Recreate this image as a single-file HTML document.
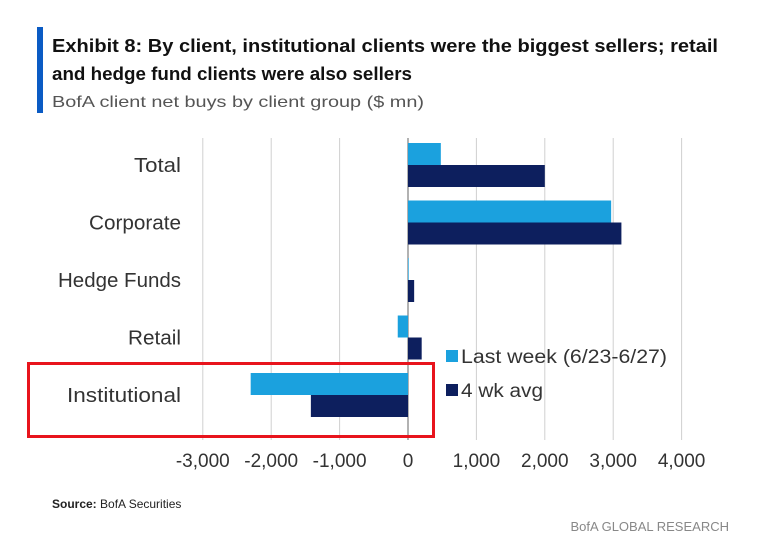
<!DOCTYPE html>
<html><head><meta charset="utf-8"><style>
html,body{margin:0;padding:0;background:#fff;}
svg{display:block;font-family:"Liberation Sans",sans-serif;}
</style></head><body>
<svg id="c" width="778" height="545" viewBox="0 0 778 545">
<rect x="37" y="27" width="6" height="86" fill="#0a5bc4"/>
<text x="52" y="52" font-size="18" font-weight="bold" fill="#111" textLength="666" lengthAdjust="spacingAndGlyphs">Exhibit 8: By client, institutional clients were the biggest sellers; retail</text>
<text x="52" y="80" font-size="18" font-weight="bold" fill="#111" textLength="360" lengthAdjust="spacingAndGlyphs">and hedge fund clients were also sellers</text>
<text x="52" y="107" font-size="16" fill="#555" textLength="372" lengthAdjust="spacingAndGlyphs">BofA client net buys by client group ($ mn)</text>
<g id="grid"></g><g id="bars"></g><g id="labels"></g>
<rect x="446" y="350" width="12" height="12" fill="#1ba1de"/>
<text x="461" y="363" font-size="19" fill="#333" textLength="206" lengthAdjust="spacingAndGlyphs">Last week (6/23-6/27)</text>
<rect x="446" y="384" width="12" height="12" fill="#0d1f5e"/>
<text x="461" y="397" font-size="19" fill="#333" textLength="82" lengthAdjust="spacingAndGlyphs">4 wk avg</text>
<rect x="28.5" y="363.5" width="405" height="73" fill="none" stroke="#e8141c" stroke-width="3"/>
<text x="52" y="508" font-size="12" fill="#222"><tspan font-weight="bold">Source:</tspan> BofA Securities</text>
<text x="729" y="531" font-size="13" fill="#888" text-anchor="end">BofA GLOBAL RESEARCH</text>
</svg>
<script>
const categories=["Total","Corporate","Hedge Funds","Retail","Institutional"];
const lastWeek=[480,2970,10,-150,-2300];
const avg4wk=[2000,3120,90,200,-1420];
const ticks=[-3000,-2000,-1000,0,1000,2000,3000,4000];
const tickLabels=["-3,000","-2,000","-1,000","0","1,000","2,000","3,000","4,000"];
const labelWidths=[47,92,123,53,114];
const NS="http://www.w3.org/2000/svg";
const x=v=>408+v*0.0684;
const rowTop=i=>143+i*57.5;
const bh=22;
function mk(t,a,p){const e=document.createElementNS(NS,t);for(const k in a)e.setAttribute(k,a[k]);p.appendChild(e);return e;}
const g=document.getElementById('grid'),b=document.getElementById('bars'),l=document.getElementById('labels');
ticks.forEach((t,i)=>{
 const ln=mk('line',{x1:x(t),x2:x(t),y1:138,y2:440,stroke:t===0?'#666':'#d0d0d0','stroke-width':1},g);
 
 
 const tx=mk('text',{x:x(t),y:467,'font-size':19,fill:'#333','text-anchor':'middle'},l);
 tx.textContent=tickLabels[i];
 
 
});
categories.forEach((c,i)=>{
 const y0=rowTop(i);
 const v1=lastWeek[i],v2=avg4wk[i];
 const r1=mk('rect',{x:Math.min(x(0),x(v1)),y:y0,width:Math.abs(x(v1)-x(0)),height:bh,fill:'#1ba1de'},b);
 
 
 const r2=mk('rect',{x:Math.min(x(0),x(v2)),y:y0+bh,width:Math.abs(x(v2)-x(0)),height:bh,fill:'#0d1f5e'},b);
 
 
 const tx=mk('text',{x:181,y:y0+bh+7,'font-size':20,fill:'#333','text-anchor':'end',textLength:labelWidths[i],lengthAdjust:'spacingAndGlyphs'},l);
 tx.textContent=c;
 
 
});
</script>
</body></html>
